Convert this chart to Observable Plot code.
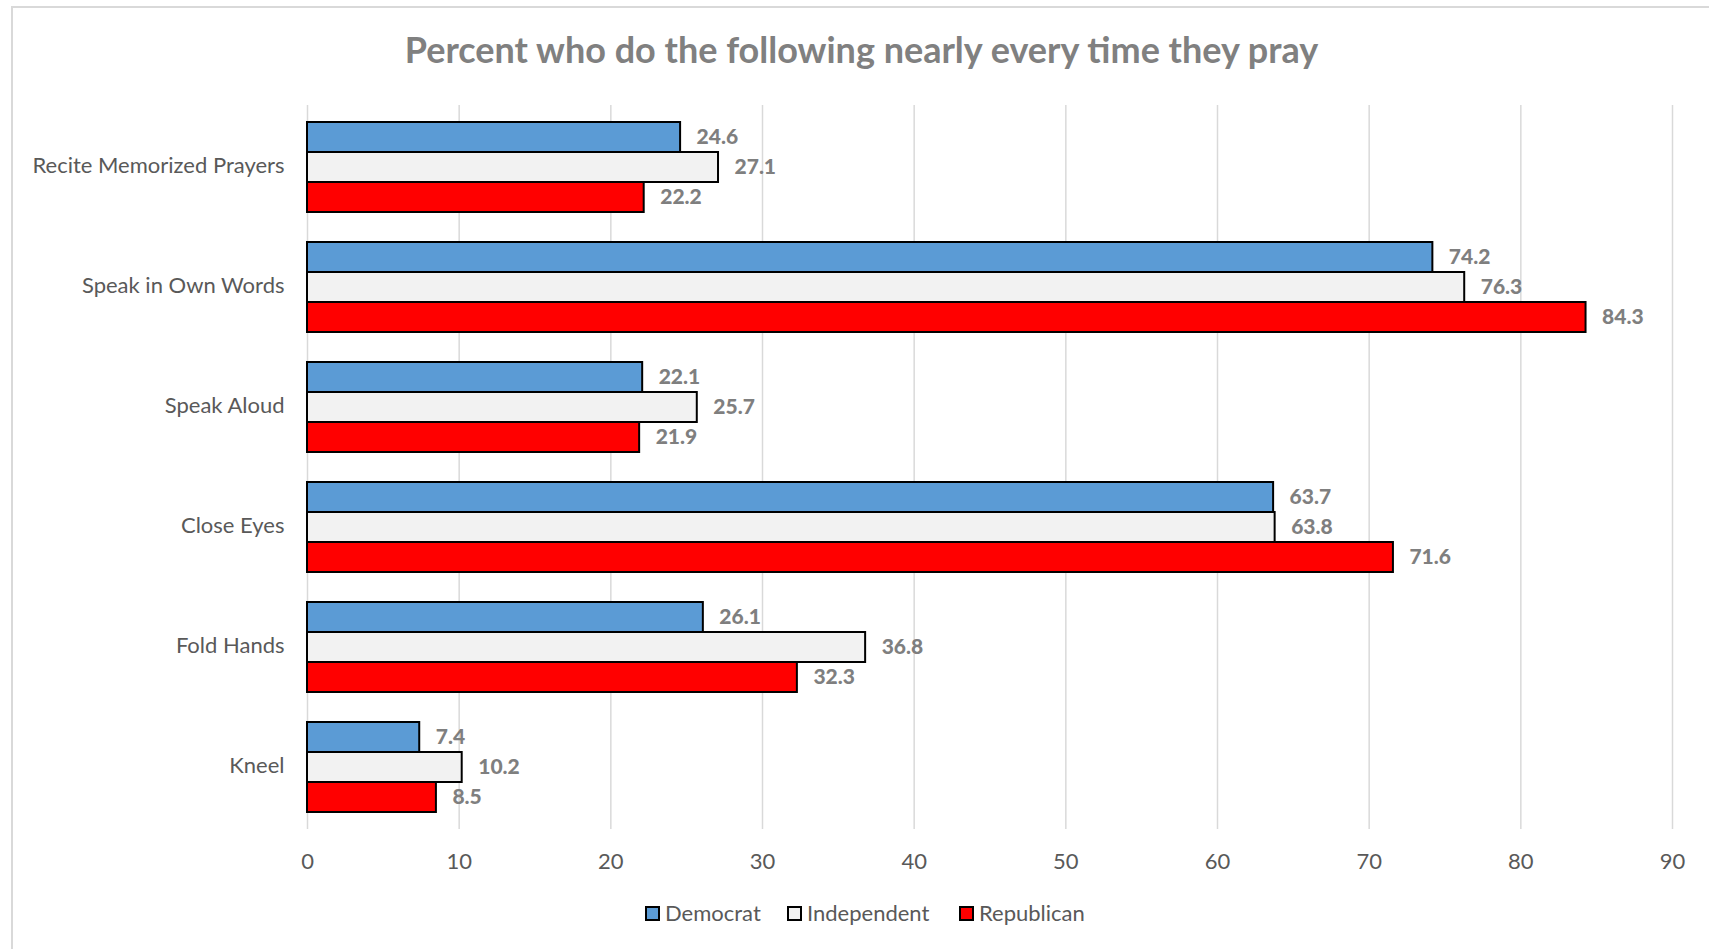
<!DOCTYPE html>
<html>
<head>
<meta charset="utf-8">
<script src="https://cdn.jsdelivr.net/npm/d3@7"></script>
<script src="https://cdn.jsdelivr.net/npm/@observablehq/plot@0.6"></script>
<style>
  html, body { margin: 0; padding: 0; background: #fff; overflow: hidden; width: 1709px; height: 949px; }
  body { position: relative; font-family: Lato, "Noto Sans", sans-serif; }
  #frame { position: absolute; left: 11px; top: 6px; width: 1720px; height: 960px; border: 2px solid #d9d9d9; box-sizing: border-box; }
  #title { position: absolute; left: 11px; width: 1701px; top: 27px; text-align: center; font-size: 36px; font-weight: bold; color: #808080; line-height: 44px; }
  #chart { position: absolute; left: 0; top: 0; }
  #legend { position: absolute; left: 0; top: 900px; width: 1709px; font-size: 22px; color: #595959; line-height: 26px; }
  .item { position: absolute; display: flex; align-items: center; }
  .sw { width: 11px; height: 11px; border: 2px solid #000; margin-right: 5px; }
  .vals text { font-weight: 900 !important; }
</style>
</head>
<body>
<div id="frame"></div>
<div id="chart"></div>
<div id="title">Percent who do the following nearly every time they pray</div>
<div id="legend"></div>
<script>
const categories = ["Recite Memorized Prayers", "Speak in Own Words", "Speak Aloud", "Close Eyes", "Fold Hands", "Kneel"];
const parties = ["Democrat", "Independent", "Republican"];
const democrat = [24.6, 74.2, 22.1, 63.7, 26.1, 7.4];
const independent = [27.1, 76.3, 25.7, 63.8, 36.8, 10.2];
const republican = [22.2, 84.3, 21.9, 71.6, 32.3, 8.5];
const partyColors = ["#5b9bd5", "#f2f2f2", "#ff0000"];
const xTicks = [0, 10, 20, 30, 40, 50, 60, 70, 80, 90];

const series = [democrat, independent, republican];
const rows = categories.flatMap((c, i) => parties.map((p, j) => ({
  category: c, party: p, value: series[j][i], key: c + "|" + p
})));
const yDomain = categories.flatMap((c, i) => [
  ...parties.map(p => c + "|" + p),
  ...(i < categories.length - 1 ? [c + "|gap"] : [])
]);
const labelRows = categories.map(c => ({category: c, key: c + "|Independent"}));

const chart = Plot.plot({
  width: 1709,
  height: 949,
  marginTop: 105,
  marginBottom: 120,
  marginLeft: 307,
  marginRight: 37,
  style: {fontFamily: "Lato, 'Noto Sans', sans-serif", fontSize: "22px", color: "#595959", background: "transparent"},
  x: {domain: [0, 90], ticks: xTicks, tickSize: 0, tickPadding: 24, tickFormat: d => String(d), label: null},
  y: {domain: yDomain, paddingInner: 0, paddingOuter: 0.5, axis: null},
  color: {domain: parties, range: partyColors},
  marks: [
    Plot.ruleX(xTicks, {stroke: "#d9d9d9", strokeWidth: 1.5}),
    Plot.barX(rows, {x: "value", y: "key", fill: "party", stroke: "#000", strokeWidth: 2}),
    Plot.text(rows, {x: "value", y: "key", text: d => d.value.toFixed(1), dx: 16, dy: 0, textAnchor: "start", fontWeight: "bold", fill: "#7f7f7f", fontSize: 21, className: "vals"}),
    Plot.text(labelRows, {x: () => 0, y: "key", text: "category", dx: -23, dy: -2, textAnchor: "end", fill: "#595959", fontSize: 22})
  ]
});
document.getElementById("chart").appendChild(chart);

const legend = document.getElementById("legend");
const legendX = [645, 787, 959];
parties.forEach((p, i) => {
  const it = document.createElement("div");
  it.className = "item";
  it.style.left = legendX[i] + "px";
  const sw = document.createElement("div");
  sw.className = "sw";
  sw.style.background = partyColors[i];
  const t = document.createElement("span");
  t.textContent = p;
  it.appendChild(sw);
  it.appendChild(t);
  legend.appendChild(it);
});
</script>
</body>
</html>
